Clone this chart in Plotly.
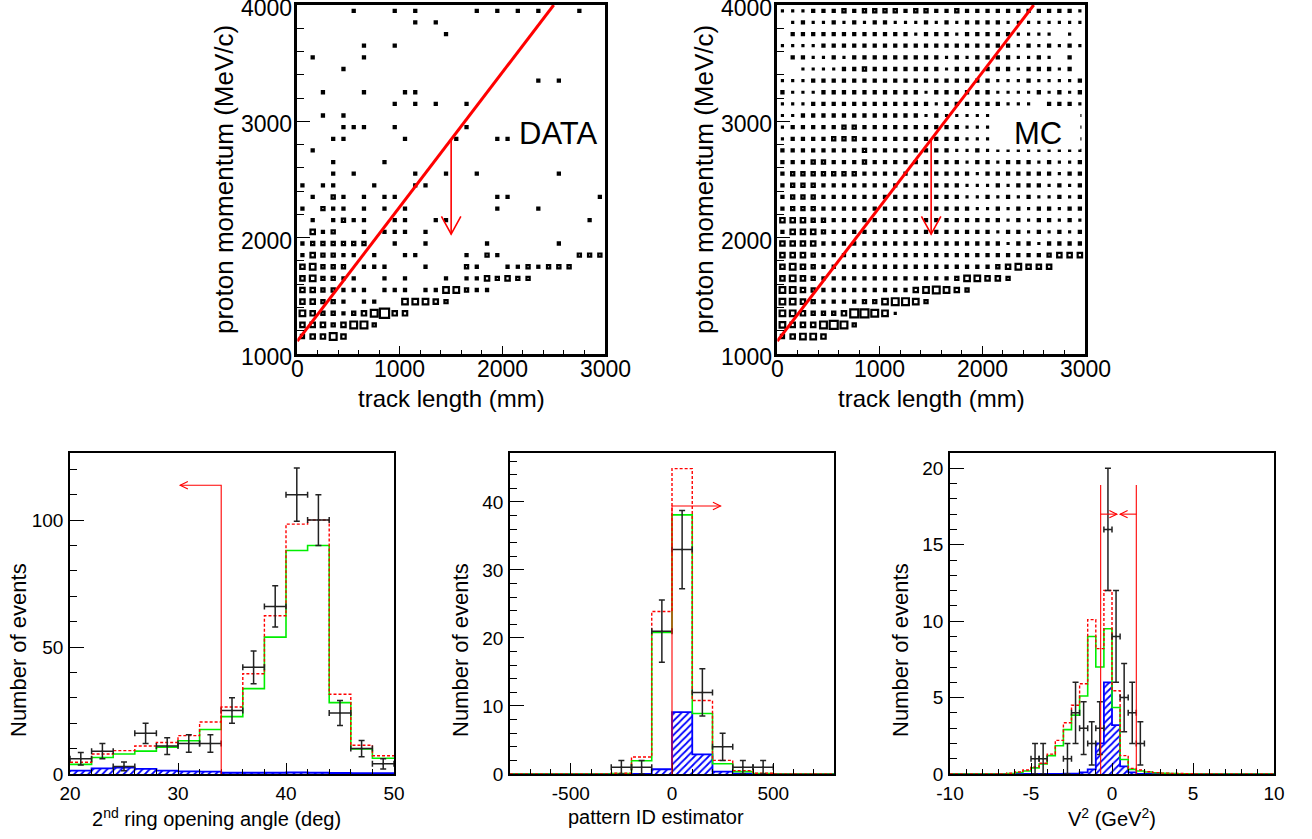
import numpy as np
import plotly.graph_objects as go

W, H = 1312, 839
FONT = "Liberation Sans, Arial, Helvetica, sans-serif"

# ---------------------------------------------------------------- top panels
# 30 x 30 bins: track length 0-3000 mm (100 mm), proton momentum 1000-4000 MeV/c (100 MeV/c)
len_edges = list(range(0, 3001, 100))
mom_edges = list(range(1000, 4001, 100))
len_ticks = [0, 1000, 2000, 3000]
mom_ticks = [1000, 2000, 3000, 4000]

# box content level per cell; row 0 = 1000-1100 MeV/c, each row = 30 track-length bins
data_rows = [
    "00000 00000 00000 00000 00000 00000",
    "34464 00000 00000 00000 00000 00000",
    "44434 66300 00000 00000 00000 00000",
    "54332 34684 40000 00000 00000 00000",
    "44332 02200 55543 00000 00000 00000",
    "44332 22022 20225 53220 00000 00000",
    "45332 20020 20002 02243 43300 00000",
    "45333 02220 00200 03200 22323 33000",
    "24332 20200 22000 02032 00000 00333",
    "23333 33002 00200 00020 00000 20000",
    "04230 02022 20200 00000 00000 00000",
    "02023 22002 20022 00000 00000 00020",
    "20322 02020 20000 00002 00020 00000",
    "02032 02022 00000 00002 20000 00002",
    "20220 00200 02200 00000 00000 00000",
    "00020 20000 02002 00200 00000 20000",
    "00020 00020 00000 00000 00000 00000",
    "02000 00000 00000 00000 00000 00000",
    "00022 00000 20000 20002 20000 00000",
    "00002 22002 00000 02000 00000 00000",
    "00202 00000 00000 00000 00000 00000",
    "00000 00002 02020 02000 00000 00000",
    "00200 02000 22000 00000 00000 00000",
    "00000 00000 00000 00000 00020 20000",
    "00002 00000 00000 00000 00000 00000",
    "02000 02000 00000 00000 00000 00000",
    "00000 02002 00000 00000 00000 00000",
    "00000 00000 00002 00000 00000 00000",
    "00000 00000 02020 00000 00000 00000",
    "00000 20002 02000 00202 02020 00200",
]

mc_rows = [
    "00000 00000 00000 00000 00000 00000",
    "34554 00000 00000 00000 00000 00000",
    "54446 76300 00000 00000 00000 00000",
    "55433 34776 51000 00000 00000 00000",
    "55432 22233 56653 00000 00000 00000",
    "55432 22222 22245 65430 00000 00000",
    "45432 22222 22222 22355 44300 00000",
    "45432 22222 22222 22222 23454 44000",
    "44432 22222 22222 22222 22222 23444",
    "44442 22222 22222 22222 22122 12222",
    "24443 22222 22222 22222 21221 21212",
    "44433 22222 22222 22222 22121 22121",
    "23332 22222 22222 22221 12121 22122",
    "23332 22222 22222 22211 21212 11212",
    "23332 22222 22222 22211 12122 21212",
    "23333 33322 22222 22221 22222 22122",
    "22233 22232 22222 22212 21222 12112",
    "22222 22232 22222 22112 11111 11111",
    "12222 33322 22222 22211 11111 11111",
    "12222 23322 22222 22211 11111 11111",
    "11222 22222 22221 21111 11111 11111",
    "11122 22222 22222 12222 22111 02221",
    "21112 22222 22221 22222 21111 21212",
    "11122 22222 22222 22222 21112 11112",
    "00111 12232 22222 21222 22212 22120",
    "02211 21222 22222 21212 22211 21020",
    "11112 22222 22222 22222 22212 12121",
    "02222 22222 22212 22122 22211 11010",
    "01211 21212 21112 12122 22111 11111",
    "11122 23233 33233 22322 22222 22221",
]

# kinematic cut line and arrow
cut_len = [0, 2500]
cut_mom = [1110, 4000]
arrow_len = 1500
arrow_tip_mom = 2030

# ---------------------------------------------------------------- bottom panels
# 2nd ring opening angle (deg): 15 bins of 2 deg from 20 to 50
ang_lo, ang_hi, ang_w = 20, 50, 2
ang_mc_total = [4.6, 7.9, 9.2, 11.0, 12.4, 15.1, 20.5, 26.4, 39.5, 62.3, 98.4, 100.0, 31.4, 11.3, 7.2]
ang_mc_main = [3.8, 6.5, 7.9, 9.0, 10.6, 13.1, 17.5, 22.6, 33.6, 53.9, 88.0, 90.0, 28.1, 9.9, 6.2]
ang_mc_bkg = [1.3, 2.2, 2.5, 2.0, 1.3, 1.0, 0.9, 0.5, 0.5, 0.5, 0.6, 0.5, 0.4, 0.3, 0.3]
ang_data = [6, 9, 3, 16, 11, 12, 12, 25, 42, 66, 110, 100, 24, 10, 4]
ang_cut, ang_cut_top, ang_arrow_end = 34, 113.7, 30.2

# pattern ID estimator: 16 bins of 100 from -800 to 800
pid_lo, pid_hi, pid_w = -800, 800, 100
pid_mc_total = [0, 0, 0, 0, 0, 0.1, 2.5, 23.9, 44.9, 10.8, 2.0, 0.5, 0.1, 0, 0, 0]
pid_mc_main = [0, 0, 0, 0, 0, 0.05, 1.95, 20.8, 38.1, 8.9, 1.5, 0.35, 0.05, 0, 0, 0]
pid_mc_bkg = [0, 0, 0, 0, 0, 0, 0, 0.7, 9.1, 2.9, 0.35, 0.05, 0, 0, 0, 0]
pid_data = [0, 0, 0, 0, 0, 1, 1, 21, 33, 12, 4, 1, 1, 0, 0, 0]
pid_cut, pid_cut_top, pid_arrow_end = 0, 39.4, 240

# V^2 (GeV^2): 40 bins of 0.5 from -10 to 10
v2_lo, v2_hi, v2_w = -10, 10, 0.5
v2_mc_total = [0, 0, 0, 0, 0, 0, 0, 0.05, 0.13, 0.26, 0.45, 0.7, 1.3, 2.2, 3.35, 4.5,
               5.9, 10.1, 8.2, 12.0, 5.45, 1.2, 0.37, 0.26, 0.15, 0.09, 0.06, 0.04, 0.03, 0.02,
               0, 0, 0, 0, 0, 0, 0, 0, 0, 0]
v2_mc_main = [0, 0, 0, 0, 0, 0, 0, 0.03, 0.1, 0.2, 0.4, 0.65, 1.2, 1.85, 2.9, 3.85,
              5.1, 9.0, 7.0, 9.5, 4.35, 0.95, 0.3, 0.2, 0.13, 0.08, 0.05, 0.03, 0.02, 0.01,
              0, 0, 0, 0, 0, 0, 0, 0, 0, 0]
v2_mc_bkg = [0, 0, 0, 0, 0, 0, 0, 0, 0, 0, 0, 0, 0, 0, 0.02, 0.03,
             0.1, 0.3, 2.0, 6.0, 3.2, 0.5, 0.1, 0, 0, 0, 0, 0, 0, 0,
             0, 0, 0, 0, 0, 0, 0, 0, 0, 0]
v2_data = [0, 0, 0, 0, 0, 0, 0, 0, 0, 0, 1, 1, 0, 0, 1, 4,
           3, 2, 3, 16, 9, 5, 4, 2, 0, 0, 0, 0, 0, 0,
           0, 0, 0, 0, 0, 0, 0, 0, 0, 0]
v2_cut_lo, v2_cut_hi, v2_cut_top = -0.7, 1.5, 18.9
v2_arrow_y, v2_arrow_lo_end, v2_arrow_hi_end = 17.0, 0.3, 0.5

# ---------------------------------------------------------------- geometry (pixels)
panels = {
    "A": dict(x0=297.3, x1=605.0, y0=5.0, y1=354.0, xr=[0, 3000], yr=[1000, 4000], ax="x", ay="y"),
    "B": dict(x0=777.3, x1=1085.0, y0=5.0, y1=354.0, xr=[0, 3000], yr=[1000, 4000], ax="x2", ay="y2"),
    "C": dict(x0=70.0, x1=394.0, y0=453.0, y1=774.0, xr=[20, 50], yr=[0, 126.4], ax="x3", ay="y3"),
    "D": dict(x0=510.0, x1=834.0, y0=453.0, y1=774.0, xr=[-800, 800], yr=[0, 47.2], ax="x4", ay="y4"),
    "E": dict(x0=950.0, x1=1274.0, y0=453.0, y1=774.0, xr=[-10, 10], yr=[0, 21.0], ax="x5", ay="y5"),
}


def dx(p, px):
    g = panels[p]
    return px * (g["xr"][1] - g["xr"][0]) / (g["x1"] - g["x0"])


def dy(p, px):
    g = panels[p]
    return px * (g["yr"][1] - g["yr"][0]) / (g["y1"] - g["y0"])


fig = go.Figure()

# ---------------------------------------------------------------- 2D box plots
def boxes(rows):
    xs, ys, ds = [], [], []
    for j, row in enumerate(rows):
        row = row.replace(" ", "")
        for i, ch in enumerate(row):
            d = int(ch)
            if d > 0:
                xs.append((len_edges[i] + len_edges[i + 1]) / 2)
                ys.append((mom_edges[j] + mom_edges[j + 1]) / 2)
                ds.append(d)
    return xs, ys, ds


for p, rows in (("A", data_rows), ("B", mc_rows)):
    g = panels[p]
    xs, ys, ds = boxes(rows)
    small = [k for k, d in enumerate(ds) if d <= 2]
    big = [k for k, d in enumerate(ds) if d > 2]
    fig.add_trace(go.Scatter(
        x=[xs[k] for k in small], y=[ys[k] for k in small], mode="markers",
        xaxis=g["ax"], yaxis=g["ay"], hoverinfo="skip",
        marker=dict(symbol="square", size=[1.1 * ds[k] + 2.1 for k in small], color="black",
                    opacity=1, line=dict(width=0)),
    ))
    fig.add_trace(go.Scatter(
        x=[xs[k] for k in big], y=[ys[k] for k in big], mode="markers",
        xaxis=g["ax"], yaxis=g["ay"], hoverinfo="skip",
        marker=dict(symbol="square-open", size=[1.2 * ds[k] - 0.4 for k in big], color="black",
                    opacity=1, line=dict(width=2.2, color="black")),
    ))
    fig.add_trace(go.Scatter(
        x=cut_len, y=cut_mom, mode="lines", xaxis=g["ax"], yaxis=g["ay"],
        line=dict(color="#ff0000", width=3), hoverinfo="skip",
    ))

# ---------------------------------------------------------------- 1D histograms
def add_hist(p, lo, hi, w, total, main, bkg, data):
    g = panels[p]
    n = len(total)
    edges = [lo + w * k for k in range(n + 1)]
    centers = [lo + w * (k + 0.5) for k in range(n)]
    fig.add_trace(go.Scatter(
        x=edges, y=list(bkg) + [bkg[-1]], mode="lines", line_shape="hv",
        xaxis=g["ax"], yaxis=g["ay"], hoverinfo="skip",
        line=dict(color="#0000ff", width=1.8),
        fill="tozeroy", fillcolor="rgba(0,0,0,0)",
        fillpattern=dict(shape="/", fgcolor="#0000ff", bgcolor="rgba(0,0,0,0)", size=5, solidity=0.35),
    ))
    fig.add_trace(go.Scatter(
        x=edges, y=list(main) + [main[-1]], mode="lines", line_shape="hv",
        xaxis=g["ax"], yaxis=g["ay"], hoverinfo="skip",
        line=dict(color="#00ee00", width=1.6),
    ))
    fig.add_trace(go.Scatter(
        x=edges, y=list(total) + [total[-1]], mode="lines", line_shape="hv",
        xaxis=g["ax"], yaxis=g["ay"], hoverinfo="skip",
        line=dict(color="#ff0000", width=1.4, dash="3px,2px"),
    ))
    xs = [c for c, v in zip(centers, data) if v > 0]
    ys = [v for v in data if v > 0]
    fig.add_trace(go.Scatter(
        x=xs, y=ys, mode="markers", xaxis=g["ax"], yaxis=g["ay"], hoverinfo="skip",
        marker=dict(size=2, color="#222222"),
        error_x=dict(type="data", array=[w / 2] * len(xs), width=3, thickness=1.5, color="#222222"),
        error_y=dict(type="data", array=[float(np.sqrt(v)) for v in ys], width=3, thickness=1.5,
                     color="#222222"),
    ))


add_hist("C", ang_lo, ang_hi, ang_w, ang_mc_total, ang_mc_main, ang_mc_bkg, ang_data)
add_hist("D", pid_lo, pid_hi, pid_w, pid_mc_total, pid_mc_main, pid_mc_bkg, pid_data)
add_hist("E", v2_lo, v2_hi, v2_w, v2_mc_total, v2_mc_main, v2_mc_bkg, v2_data)

# ---------------------------------------------------------------- cut lines / arrows
shapes = []


def path(p, pts, color="#ff0000", width=1.2, layer="above"):
    g = panels[p]
    d = "M " + " L ".join(f"{x:.4f},{y:.4f}" for x, y in pts)
    shapes.append(dict(type="path", path=d, xref=g["ax"], yref=g["ay"], layer=layer,
                       line=dict(color=color, width=width)))


def head(p, tip, direction, length_px, half_px, color="#ff0000", width=1.2):
    tx, ty = tip
    if direction in ("left", "right"):
        s = 1 if direction == "left" else -1
        bx = tx + s * dx(p, length_px)
        pts = [(bx, ty + dy(p, half_px)), (tx, ty), (bx, ty - dy(p, half_px))]
    else:
        s = 1 if direction == "down" else -1
        by = ty + s * dy(p, length_px)
        pts = [(tx - dx(p, half_px), by), (tx, ty), (tx + dx(p, half_px), by)]
    path(p, pts, color, width)


arrow_start = float(np.interp(arrow_len, cut_len, cut_mom))
for p in ("A", "B"):
    path(p, [(arrow_len, arrow_start), (arrow_len, arrow_tip_mom)], width=1.6)
    head(p, (arrow_len, arrow_tip_mom), "down", 17.7, 9.7, width=1.6)

path("C", [(ang_cut, 0), (ang_cut, ang_cut_top), (ang_arrow_end, ang_cut_top)], width=1.1)
head("C", (ang_arrow_end, ang_cut_top), "left", 7.7, 3.7, width=1.1)
path("D", [(pid_cut, 0), (pid_cut, pid_cut_top), (pid_arrow_end, pid_cut_top)], width=1.1)
head("D", (pid_arrow_end, pid_cut_top), "right", 7.7, 3.7, width=1.1)
path("E", [(v2_cut_lo, 0), (v2_cut_lo, v2_cut_top)], width=1.1)
path("E", [(v2_cut_hi, 0), (v2_cut_hi, v2_cut_top)], width=1.1)
path("E", [(v2_cut_lo, v2_arrow_y), (v2_arrow_lo_end, v2_arrow_y)], width=1.1)
path("E", [(v2_cut_hi, v2_arrow_y), (v2_arrow_hi_end, v2_arrow_y)], width=1.1)
head("E", (v2_arrow_lo_end, v2_arrow_y), "right", 7.5, 3.7, width=1.1)
head("E", (v2_arrow_hi_end, v2_arrow_y), "left", 7.5, 3.7, width=1.1)

annotations = []
for p, label in (("A", "DATA"), ("B", "MC")):
    g = panels[p]
    shapes.append(dict(type="rect", xref=g["ax"], yref=g["ay"], x0=2100, x1=2955, y0=2757, y1=3100,
                       fillcolor="white", line=dict(width=0), layer="above"))
    annotations.append(dict(xref=g["ax"], yref=g["ay"], x=2545, y=2895, text=label, showarrow=False,
                            xanchor="center", yanchor="middle",
                            font=dict(family=FONT, size=31, color="black")))
    # tick labels of the 2D panels (placed like the ROOT output)
    for v in len_ticks:
        annotations.append(dict(xref=g["ax"], yref="paper", x=v, y=1 - 369 / H, text=str(v),
                                showarrow=False, xanchor="center", yanchor="middle",
                                font=dict(family=FONT, size=23, color="black")))
    for v in mom_ticks:
        annotations.append(dict(xref="paper", yref=g["ay"], x=(g["x0"] - 3) / W, y=v, text=str(v),
                                showarrow=False, xanchor="right", yanchor="middle", yshift=-3,
                                font=dict(family=FONT, size=23, color="black")))


# ---------------------------------------------------------------- axes
def axis(g, which, majors, minors, font, lw, mlen, nlen, anchor, labels=True):
    rng = g["xr"] if which == "x" else g["yr"]
    if which == "x":
        dom = [g["x0"] / W, g["x1"] / W]
    else:
        dom = [1 - g["y1"] / H, 1 - g["y0"] / H]
    return dict(
        domain=dom, range=rng, anchor=anchor, automargin=False,
        showline=True, linecolor="black", linewidth=lw,
        mirror=True, ticks="inside", ticklen=mlen, tickwidth=1, tickcolor="black",
        showgrid=False, zeroline=False, fixedrange=True, ticklabeloverflow="allow",
        tickmode="array", tickvals=majors, ticktext=[str(v) for v in majors],
        showticklabels=labels,
        tickfont=dict(family=FONT, size=font, color="black"), ticklabelstandoff=1,
        minor=dict(tickmode="array", tickvals=minors, ticks="inside", ticklen=nlen,
                   tickcolor="black", tickwidth=1, showgrid=False),
    )


layout_axes = {}
spec = {
    "A": (len_ticks, list(range(0, 3001, 200)), mom_ticks,
          list(range(1000, 4001, 200)), 23, 2.5, (8, 4), (13, 7), False),
    "B": (len_ticks, list(range(0, 3001, 200)), mom_ticks,
          list(range(1000, 4001, 200)), 23, 2.5, (8, 4), (13, 7), False),
    "C": ([20, 30, 40, 50], list(range(20, 51, 2)), [0, 50, 100], list(range(0, 121, 10)),
          19, 1.5, (11, 5), (14, 7), True),
    "D": ([-500, 0, 500], list(range(-800, 801, 100)), [0, 10, 20, 30, 40], list(range(0, 47, 2)),
          19, 1.5, (11, 5), (14, 7), True),
    "E": ([-10, -5, 0, 5, 10], list(range(-10, 11, 1)), [0, 5, 10, 15, 20], list(range(0, 22, 1)),
          19, 1.5, (11, 5), (14, 7), True),
}
for p, (xm, xn, ym, yn, fs, lw, xl, yl, lab) in spec.items():
    g = panels[p]
    xname = "xaxis" + g["ax"][1:]
    yname = "yaxis" + g["ay"][1:]
    layout_axes[xname] = axis(g, "x", xm, xn, fs, lw, xl[0], xl[1], g["ay"], lab)
    layout_axes[yname] = axis(g, "y", ym, yn, fs, lw, yl[0], yl[1], g["ax"], lab)

titles = [
    ("track length (mm)", 451, 398, 0, 24),
    ("proton momentum (MeV/c)", 224, 180, -90, 26),
    ("track length (mm)", 931, 398, 0, 24),
    ("proton momentum (MeV/c)", 704, 180, -90, 26),
    ("2<sup>nd</sup> ring opening angle (deg)", 216, 817, 0, 20),
    ("Number of events", 18, 650, -90, 22),
    ("pattern ID estimator", 656, 817, 0, 20),
    ("Number of events", 460, 650, -90, 22),
    ("V<sup>2</sup> (GeV<sup>2</sup>)", 1112, 817, 0, 20),
    ("Number of events", 900, 650, -90, 22),
]
for text, xp, yp, ang, fs in titles:
    annotations.append(dict(xref="paper", yref="paper", x=xp / W, y=1 - yp / H, text=text,
                            showarrow=False, textangle=ang, xanchor="center", yanchor="middle",
                            font=dict(family=FONT, size=fs, color="black")))

fig.update_layout(
    template="none",
    width=W, height=H, margin=dict(l=0, r=0, t=0, b=0, autoexpand=False),
    paper_bgcolor="white", plot_bgcolor="white", showlegend=False,
    font=dict(family=FONT, color="black"),
    shapes=shapes, annotations=annotations, **layout_axes,
)

fig.write_html("out.html", post_script="document.body.style.margin='0';",
               config={"displayModeBar": False})
